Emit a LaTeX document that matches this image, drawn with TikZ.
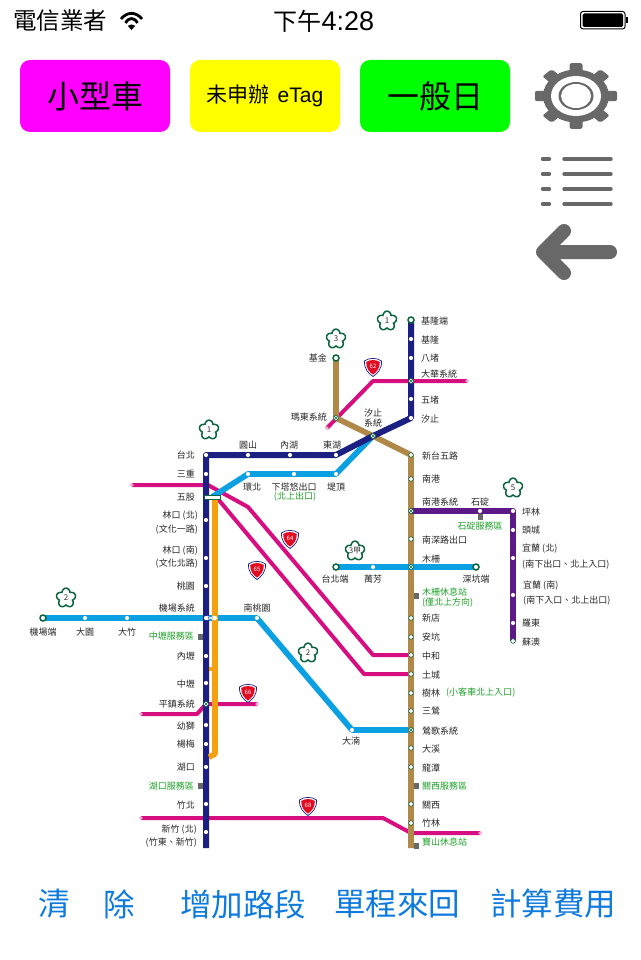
\documentclass[tikz,border=0pt]{standalone}
\usepackage{fontspec}
\setmainfont{Noto Sans CJK TC}
\newfontfamily\latinfont{Liberation Sans}
\usetikzlibrary{backgrounds}
\definecolor{cNavy}{RGB}{27,32,130}
\definecolor{cBrown}{RGB}{176,136,72}
\definecolor{cPurple}{RGB}{92,26,136}
\definecolor{cPink}{RGB}{214,14,128}
\definecolor{cSky}{RGB}{10,160,226}
\definecolor{cOrange}{RGB}{245,160,14}
\definecolor{cGreen}{RGB}{10,100,62}
\definecolor{cText}{RGB}{30,160,40}
\definecolor{cGray}{RGB}{104,104,104}
\definecolor{cRed}{RGB}{226,12,34}
\definecolor{cLink}{RGB}{14,122,222}
\definecolor{cBtnA}{RGB}{255,0,255}
\definecolor{cBtnB}{RGB}{255,255,0}
\definecolor{cBtnC}{RGB}{0,255,0}
\tikzset{
    stn/.style={circle,fill=white,draw=cGreen,line width=.6pt,inner sep=0pt,minimum size=4.6pt},
    stnw/.style={circle,fill=white,inner sep=0pt,minimum size=4.2pt},
    stnx/.style={stn,minimum size=5pt,path picture={\draw[cGreen,line width=.5pt]
        (path picture bounding box.north west) -- (path picture bounding box.south east)
        (path picture bounding box.north east) -- (path picture bounding box.south west);}},
    stnend/.style={circle,fill=white,draw=cGreen,line width=1.5pt,inner sep=0pt,minimum size=6pt},
    stnm/.style={circle,fill=white,draw=cPink!60,line width=.5pt,inner sep=0pt,minimum size=3pt},
    rest/.style={fill=cGray,inner sep=0pt,minimum width=5pt,minimum height=6pt},
    lbl/.style={inner sep=0pt,text=black!85,font=\fontsize{9}{9}\selectfont},
    lblg/.style={lbl,text=cText},
    road/.style={line width=#1,line join=round},
    btn/.style={rounded corners=10pt,minimum width=150pt,minimum height=72pt,inner sep=0pt,text=black},
    bar/.style={cGray,line width=3.4pt,line cap=round},
    link/.style={inner sep=0pt,text=cLink,font=\fontsize{31.5}{31.5}\selectfont},
    pics/plum/.style={code={
        \draw[cGreen,line width=1.5pt,fill=white] plot[domain=0:360,samples=120,smooth]
            ({(6.8+3*abs(cos(2.5*(\x-90))))*cos(\x)},{-(6.8+3*abs(cos(2.5*(\x-90))))*sin(\x)}) -- cycle;
        \node[inner sep=0pt,text=black!80,font=\fontsize{8}{8}\selectfont] (-t) at (0,0) {#1};}},
    pics/hwy/.style={code={
        \draw[cNavy,line width=.7pt,fill=white] (-8.5,-6) .. controls (-4.5,-9.5) and (4.5,-9.5) .. (8.5,-6)
            .. controls (9,2) and (4.5,6.5) .. (0,9.5) .. controls (-4.5,6.5) and (-9,2) .. (-8.5,-6) -- cycle;
        \fill[cRed] (-6.8,-5) .. controls (-3.5,-7.6) and (3.5,-7.6) .. (6.8,-5)
            .. controls (7,1.5) and (3.5,5.2) .. (0,7.6) .. controls (-3.5,5.2) and (-7,1.5) .. (-6.8,-5) -- cycle;
        \node[inner sep=0pt,text=white,font=\fontsize{6}{6}\selectfont] (-t) at (0,-.5) {#1};}}
}
\begin{document}
\begin{tikzpicture}[x=1pt,y=-1pt]
    \useasboundingbox (0,0) rectangle (640,960);
    % status bar
    \node[inner sep=0pt,anchor=west,font=\fontsize{23.5}{23.5}\selectfont] (carrier) at (13,21) {電信業者};
    \node[inner sep=0pt,anchor=west,font=\fontsize{24}{24}\selectfont] (clock) at (273,21) {下午\hspace{.5pt}{\latinfont\fontsize{27}{27}\selectfont 4:28}};
    \draw[black,line width=2.8pt] (121,19) .. controls (127,11.5) and (136,11.5) .. (142,19);
    \draw[black,line width=2.8pt] (125.5,23) .. controls (129,17) and (134,17) .. (137.5,23);
    \fill[black] (127.8,25.8) .. controls (130,24) and (133,24) .. (135.2,25.8) -- (131.5,30) -- cycle;
    \draw[black,line width=1pt,rounded corners=2.5pt] (580.5,11.5) rectangle (625,29);
    \fill[black,rounded corners=1.5pt] (582.5,13.5) rectangle (623,27);
    \fill[black] (626,17) rectangle (627.5,23.5);
    % top buttons
    \node[btn,fill=cBtnA,font=\fontsize{32}{32}\selectfont] (car) at (95,96) {小型車};
    \node[btn,fill=cBtnB,font=\fontsize{21}{21}\selectfont] (etag) at (265,96) {未申辦\hspace{8pt}{\latinfont eTag}};
    \node[btn,fill=cBtnC,font=\fontsize{32}{32}\selectfont] (day) at (435,96) {一般日};
    % gear
    \begin{scope}[shift={(576,96)},yscale=.8]
        \foreach \a in {0,45,...,315}
            \fill[cGray,rotate=\a,rounded corners=2pt] (-6.5,-41) rectangle (6.5,-20);
        \fill[cGray] (0,0) circle[radius=33];
        \fill[white] (0,0) circle[radius=25];
        \fill[cGray] (0,0) circle[radius=17.5];
        \fill[white] (0,0) circle[radius=15];
    \end{scope}
    % list icon
    \foreach \py in {159,174,189,204}{
        \draw[bar] (542.5,\py) -- (549.5,\py);
        \draw[bar] (564,\py) -- (611,\py);
    }
    % back arrow
    \draw[cGray,line width=14pt,line cap=round,line join=round]
        (610,252) -- (543,252) (564,231) -- (543,252) -- (564,273);
    % stations
    \foreach \n/\px/\py in {taipei/206/455,sanchong/206/474,linkn/206/520,links/206/558,taoyuan/206/586,
        airsys/206/618,neili/206/656,zhongli/206/683,yangyouth/206/725,yangmei/206/744,hukou/206/767,
        zhubei/206/804,hsinchu/206/832,yuanshan/248/455,neihu/290/455,donghu/336/455,
        keelung/411/339,badu/411/358,wudu/411/399,xizhi/411/418}
        \node[stnw] (\n) at (\px,\py) {};
    \foreach \n/\px/\py in {huanbei/248/474,xiatayou/294/474,diding/336/474,dayuan/85/618,dazhu/127/618,
        airsys2/215/618,nantao/257/618,danan/352/730,wanfang/373/567,shiding/480/511,pinglin/513/511,
        toucheng/513/530,yilann/513/558,yilans/513/595,luodong/513/623}
        \node[stnw] (\n) at (\px,\py) {};
    \foreach \n/\px/\py in {xintai/411/455,nangang/411/479,nanshen/411/539,xindian/411/618,ankeng/411/637,
        zhonghe/411/655,tucheng/411/674,shulin/411/693,sanying/411/711,daxi/411/748,longtan/411/767,
        guanxi/411/804,zhulin/411/823,suao/513/641}
        \node[stn] (\n) at (\px,\py) {};
    \foreach \n/\px/\py in {pingzhen/206/704,xizhisys/373/436,dahua/411/381,madong/336/418,nansys/411/511,
        muzha/411/567,yingge/411/730}
        \node[stnx] (\n) at (\px,\py) {};
    \foreach \n/\px/\py in {keelungend/411/320,jijin/336/358,airend/43/618,tpeend/336/567,shenkeng/476/567}
        \node[stnend] (\n) at (\px,\py) {};
    \foreach \n/\px/\py in {e62a/327/428,e62b/467/381,e64a/132/485,e66a/141/714,e66b/257/704,e68a/141/818,e68b/480/833}
        \node[stnm] (\n) at (\px,\py) {};
    \node[fill=white,draw=cGreen,line width=.5pt,inner sep=0pt,minimum width=16pt,minimum height=4.5pt] (wugu) at (212,497) {};
    % free ends of the lines
    \foreach \n/\px/\py in {navyend/206/848,brownend/411/848,orangea/215/497,orangeb/215/754,orangec/209/757,
        orangej/209/669,orangek/215/669,p62/373/381,p64a/208/485,p64b/248/507,p64c/373/655,p65a/218/499,
        p65b/364/674,p66a/197/714,p68a/383/818,p68b/411/833,skya/212/497}
        \coordinate (\n) at (\px,\py);
    % service areas
    \foreach \n/\px/\py in {restzl/200/637,resthk/200/786,restmz/416.5/596,restgx/416.5/786,restbs/416.5/846,restsd/480/517}
        \node[rest] (\n) at (\px,\py) {};
    % the roads
    \begin{scope}[on background layer]
        \draw[cPink,road=4pt] (e62a.center) -- (p62) -- (e62b.center);
        \draw[cPink,road=4pt] (e64a.center) -- (p64a) -- (p64b) -- (p64c) -- (zhonghe.center);
        \draw[cPink,road=4pt] (p65a) -- (p65b) -- (tucheng.center);
        \draw[cPink,road=4pt] (e66a.center) -- (p66a) -- (pingzhen.center) -- (e66b.center);
        \draw[cPink,road=4pt] (e68a.center) -- (p68a) -- (p68b) -- (e68b.center);
        \draw[cSky,road=5.7pt] (airend.center) -- (nantao.center) -- (danan.center) -- (yingge.center);
        \draw[cSky,road=5.7pt] (skya) -- (huanbei.center) -- (diding.center) -- (xizhisys.center);
        \draw[cBrown,road=5.7pt] (jijin.center) -- (madong.center) -- (xizhisys.center) -- (xintai.center) -- (brownend);
        \draw[cSky,road=5.7pt] (tpeend.center) -- (shenkeng.center);
        \draw[cPurple,road=6pt] (nansys.center) -- (pinglin.center) -- (suao.center);
        \draw[cNavy,road=6pt] (navyend) -- (taipei.center) -- (donghu.center) -- (xizhisys.center)
            -- (xizhi.center) -- (keelungend.center);
        \draw[cOrange,road=5.6pt] (orangea) -- (orangeb) -- (orangec);
        \draw[cOrange,road=4pt] (orangej) -- (orangek);
        \draw[white,line width=.7pt] (207,616) -- (214,620) (207,620) -- (214,616);
        \draw[cPink,road=4pt] (dahua.center) -- (e62b.center);
    \end{scope}
    % labels, right edge
    \foreach \px/\py/\t [count=\i] in {195/455/台北,195/474/三重,195/497/五股,198/516/林口 (北),198/530/(文化一路),
        198/551/林口 (南),198/564/(文化北路),195/586/桃園,195/608/機場系統,195/656/內壢,195/684/中壢,
        195/704/平鎮系統,195/726/幼獅,195/744/楊梅,195/767/湖口,195/805/竹北,197/830/新竹 (北),197/843/(竹東、新竹),
        327/358/基金,327/417/瑪東系統}
        \node[lbl,anchor=east] (le\i) at (\px,\py) {\t};
    \foreach \px/\py/\t [count=\i] in {194/636/中壢服務區,194/786/湖口服務區}
        \node[lblg,anchor=east] (ge\i) at (\px,\py) {\t};
    % labels, centred
    \foreach \px/\py/\t [count=\i] in {248/445/圓山,289/445/內湖,332/445/東湖,252/487/環北,294/487/下塔悠出口,
        336/487/堤頂,373/413/汐止,373/423/系統,257/608/南桃園,43/632/機場端,85/632/大園,127/632/大竹,
        351/741/大湳,335/579/台北端,373/579/萬芳,476/579/深坑端,480/502/石碇}
        \node[lbl] (lc\i) at (\px,\py) {\t};
    \foreach \px/\py/\t [count=\i] in {295/497/(北上出口),480/526/石碇服務區}
        \node[lblg] (gc\i) at (\px,\py) {\t};
    % labels, left edge
    \foreach \px/\py/\t [count=\i] in {421/321/基隆端,421/340/基隆,421/358/八堵,421/374/大華系統,421/400/五堵,421/419/汐止,
        422/456/新台五路,422/479/南港,422/502/南港系統,422/540/南深路出口,422/559/木柵,422/618/新店,422/637/安坑,
        422/656/中和,422/675/土城,422/693/樹林,422/711/三鶯,422/731/鶯歌系統,422/749/大溪,422/768/龍潭,422/805/關西,
        422/823/竹林,522/512/坪林,522/530/頭城,522/549/宜蘭 (北),522/565/(南下出口、北上入口),523/586/宜蘭 (南),
        523/601/(南下入口、北上出口),522/623/羅東,522/642/蘇澳}
        \node[lbl,anchor=west] (lw\i) at (\px,\py) {\t};
    \foreach \px/\py/\t [count=\i] in {422/592/木柵休息站,422/603/(僅北上方向),446/693/(小客車北上入口),422/786/關西服務區,422/842/寶山休息站}
        \node[lblg,anchor=west] (gw\i) at (\px,\py) {\t};
    % freeway and expressway signs
    \foreach \n/\px/\py/\t in {f1a/209/430/1,f1b/387/321/1,f3/336/339/3,f3j/355/551/3甲,f5/513/488/5,f2a/66/598/2,f2b/308/653/2}
        \pic (\n) at (\px,\py) {plum=\t};
    \foreach \n/\px/\py/\t in {h62/373/367/62,h64/290/539/64,h65/257/570/65,h66/248/693/66,h68/308/806/68}
        \pic (\n) at (\px,\py) {hwy=\t};
    % bottom links
    \node[link] (clr1) at (54,904) {清};
    \node[link] (clr2) at (119,904) {除};
    \node[link] (addseg) at (243,904) {增加路段};
    \node[link] (oneway) at (397,904) {單程來回};
    \node[link] (calc) at (553,904) {計算費用};
\end{tikzpicture}
\end{document}
